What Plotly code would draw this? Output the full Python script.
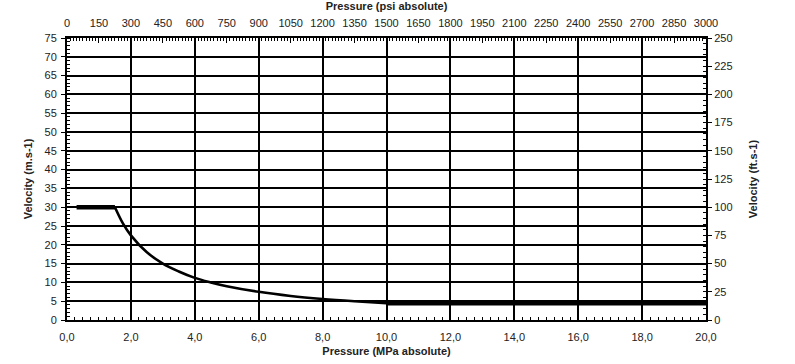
import plotly.graph_objects as go

# Data
p_start = [0.3, 1.5]
v_start = [30, 30]
p_curve = [1.5, 1.75, 2.0, 2.5, 3.0, 3.5, 4.0, 4.5, 5.0, 6.0, 7.0, 8.0, 9.0, 10.0]
v_curve = [30, 25.7, 22.5, 18, 15, 12.9, 11.2, 10, 9, 7.5, 6.4, 5.6, 5.0, 4.5]
p_end = [10.0, 20.0]
v_end = [4.5, 4.5]

FONT = "Liberation Sans, Arial, sans-serif"
tickfont = dict(family=FONT, size=11, color="#222")
titlefont = dict(family=FONT, size=11, color="#222", weight="bold")

fig = go.Figure()
fig.add_trace(go.Scatter(x=p_start, y=v_start, mode="lines",
                         line=dict(color="black", width=4.5), showlegend=False))
fig.add_trace(go.Scatter(x=p_curve, y=v_curve, mode="lines",
                         line=dict(color="black", width=2.6, shape="spline"), showlegend=False))
fig.add_trace(go.Scatter(x=p_end, y=v_end, mode="lines",
                         line=dict(color="black", width=5), showlegend=False))
# dummy trace to activate secondary axes
fig.add_trace(go.Scatter(x=[None], y=[None], xaxis="x2", yaxis="y2",
                         showlegend=False, hoverinfo="skip"))

fig.update_layout(
    width=795, height=364,
    margin=dict(l=67, r=89, t=38, b=44, autoexpand=False),
    paper_bgcolor="white", plot_bgcolor="white",
    separators=",.",
    showlegend=False,
    xaxis=dict(range=[0, 20], dtick=2, tickformat=".1f", automargin=False,
               showgrid=True, gridcolor="black", gridwidth=1.5,
               showline=True, linecolor="black", linewidth=2,
               ticks="", tickfont=tickfont, zeroline=False,
               ticklabelstandoff=6,
               minor=dict(ticks="inside", ticklen=3, dtick=0.25,
                          tickcolor="black", tickwidth=1, showgrid=False),
               title=dict(text="Pressure (MPa absolute)", font=titlefont, standoff=5)),
    xaxis2=dict(range=[0, 3000], dtick=150, overlaying="x", side="top",
                anchor="y", automargin=False, showgrid=False, showline=True, linecolor="black",
                linewidth=2, ticks="inside", ticklen=5, tickcolor="black",
                tickfont=tickfont, zeroline=False, ticklabelstandoff=5,
                minor=dict(ticks="inside", ticklen=3, dtick=15,
                           tickcolor="black", tickwidth=1, showgrid=False),
                title=dict(text="Pressure (psi absolute)", font=titlefont, standoff=6)),
    yaxis=dict(range=[0, 75], dtick=5, automargin=False,
               showgrid=True, gridcolor="black", gridwidth=1.5,
               showline=True, linecolor="black", linewidth=2,
               ticks="outside", ticklen=4, tickcolor="black",
               tickfont=tickfont, zeroline=False, ticklabelstandoff=2,
               minor=dict(ticks="inside", ticklen=3, dtick=1,
                          tickcolor="black", tickwidth=1, showgrid=False),
               title=dict(text="Velocity (m.s-1)", font=titlefont, standoff=10)),
    yaxis2=dict(range=[0, 250], dtick=25, overlaying="y", side="right",
                anchor="x", automargin=False, showgrid=False, showline=True, linecolor="black",
                linewidth=2, ticks="outside", ticklen=4, tickcolor="black",
                tickfont=tickfont, zeroline=False,
                minor=dict(ticks="inside", ticklen=3, dtick=5,
                           tickcolor="black", tickwidth=1, showgrid=False),
                title=dict(text="Velocity (ft.s-1)", font=titlefont, standoff=18)),
)

fig.write_html("out.html", config={"displayModeBar": False},
               post_script="document.body.style.margin='0px';")
